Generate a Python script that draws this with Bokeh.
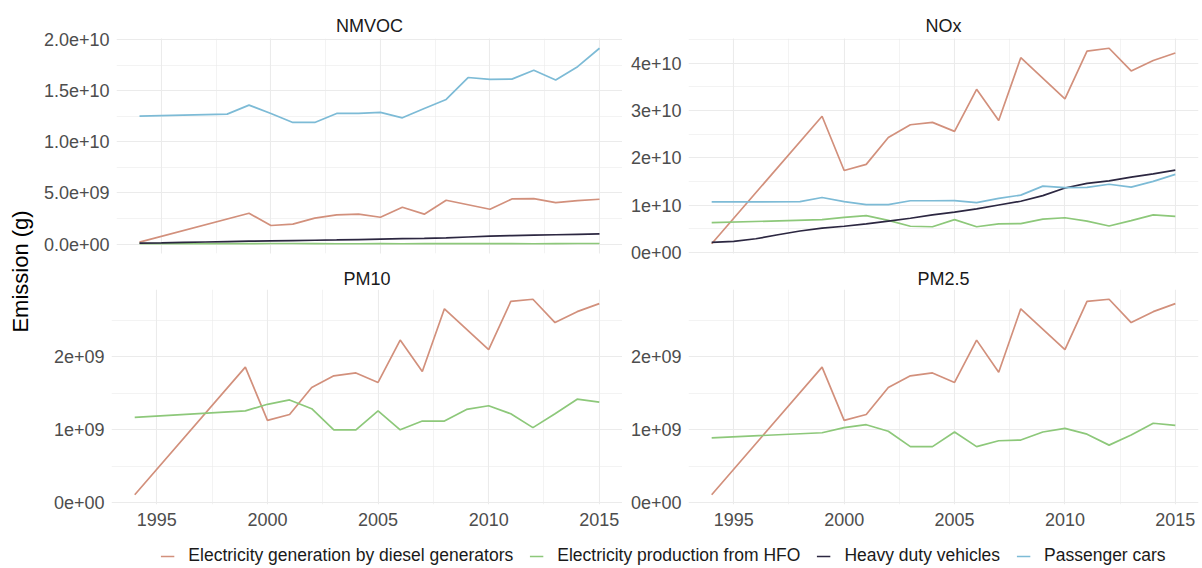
from math import pi
from bokeh.plotting import figure
from bokeh.models import (Range1d, FixedTicker, CustomJSTickFormatter, Grid,
                          Legend, LegendItem, Label)
from bokeh.layouts import row, column
from bokeh.embed import file_html
from bokeh.resources import INLINE

# ---------------- data (values in 1e9 g) ----------------
sources = ["Electricity generation by diesel generators",
           "Electricity production from HFO",
           "Heavy duty vehicles",
           "Passenger cars"]
colors = ["#D2907C", "#8DC87A", "#2C2741", "#7DBBD6"]

diesel_years = [1994, 1999, 2000, 2001, 2002, 2003, 2004, 2005, 2006, 2007,
                2008, 2010, 2011, 2012, 2013, 2014, 2015]
hfo_years = [1994, 1999, 2000, 2001, 2002, 2003, 2004, 2005, 2006, 2007,
             2008, 2009, 2010, 2011, 2012, 2013, 2014, 2015]
heavy_years = [1994, 1995, 1996, 1997, 1998, 1999, 2000, 2001, 2002, 2003,
               2004, 2005, 2006, 2007, 2008, 2009, 2010, 2011, 2012, 2013,
               2014, 2015]
cars_years = [1994, 1998, 1999, 2000, 2001, 2002, 2003, 2004, 2005, 2006,
              2007, 2008, 2009, 2010, 2011, 2012, 2013, 2014, 2015]

diesel_nmvoc = [0.2, 3.02, 1.82, 1.95, 2.54, 2.86, 2.93, 2.63, 3.61, 2.93,
                4.29, 3.41, 4.42, 4.45, 4.06, 4.25, 4.39]
diesel_nox = [1.8, 28.8, 17.3, 18.6, 24.3, 27.0, 27.5, 25.6, 34.5, 27.9,
              41.2, 32.5, 42.6, 43.2, 38.4, 40.6, 42.2]
diesel_pm10 = [0.11, 1.86, 1.13, 1.21, 1.58, 1.74, 1.78, 1.65, 2.23, 1.80,
               2.66, 2.10, 2.76, 2.79, 2.47, 2.62, 2.73]
diesel_pm25 = [0.11, 1.86, 1.13, 1.21, 1.58, 1.74, 1.78, 1.65, 2.23, 1.79,
               2.66, 2.10, 2.76, 2.79, 2.47, 2.62, 2.73]

hfo_nmvoc = [0.05, 0.05, 0.06, 0.06, 0.05, 0.04, 0.04, 0.05, 0.04, 0.05,
             0.05, 0.05, 0.06, 0.05, 0.04, 0.05, 0.06, 0.06]
hfo_nox = [6.25, 6.9, 7.4, 7.75, 6.75, 5.5, 5.4, 6.9, 5.4, 6.0,
           6.05, 7.0, 7.3, 6.6, 5.55, 6.7, 7.9, 7.6]
hfo_pm10 = [1.17, 1.26, 1.35, 1.41, 1.29, 1.0, 1.0, 1.26, 1.0, 1.12,
            1.12, 1.28, 1.33, 1.22, 1.03, 1.22, 1.42, 1.38]
hfo_pm25 = [0.89, 0.96, 1.03, 1.07, 0.98, 0.77, 0.77, 0.97, 0.77, 0.85,
            0.86, 0.97, 1.02, 0.94, 0.79, 0.93, 1.09, 1.06]

heavy_nmvoc = [0.10, 0.13, 0.17, 0.21, 0.25, 0.29, 0.32, 0.35, 0.38, 0.41,
               0.45, 0.49, 0.53, 0.57, 0.62, 0.70, 0.78, 0.84, 0.88, 0.92,
               0.96, 1.00]
heavy_nox = [2.1, 2.3, 2.85, 3.7, 4.5, 5.1, 5.5, 6.0, 6.6, 7.2,
             7.9, 8.5, 9.2, 10.0, 10.8, 12.0, 13.6, 14.6, 15.1, 15.9,
             16.6, 17.4]

cars_nmvoc = [12.52, 12.71, 13.59, 12.78, 11.9, 11.9, 12.78, 12.78, 12.88,
              12.35, 13.27, 14.15, 16.29, 16.1, 16.13, 17.0, 16.05, 17.35,
              19.15]
cars_nox = [10.66, 10.7, 11.6, 10.7, 10.1, 10.1, 10.9, 10.9, 10.95, 10.5,
            11.4, 12.1, 14.0, 13.7, 13.75, 14.4, 13.8, 15.0, 16.5]

x_ticks = [1995, 2000, 2005, 2010, 2015]
x_minor = [1997.5, 2002.5, 2007.5, 2012.5]
nmvoc_ticks = [0, 5e9, 1e10, 1.5e10, 2e10]
nmvoc_minor = [2.5e9, 7.5e9, 1.25e10, 1.75e10]
nox_ticks = [0, 1e10, 2e10, 3e10, 4e10]
nox_minor = [5e9, 1.5e10, 2.5e10, 3.5e10, 4.5e10]
pm_ticks = [0, 1e9, 2e9]
pm_minor = [5e8, 1.5e9, 2.5e9]

UNIT = 1e9
FONT = "Liberation Sans"
GRID = "#EBEBEB"
LW = 1.7
TICK_FS = "18px"


def fmt(digits):
    return CustomJSTickFormatter(code="""
        const s = tick.toExponential(%d);
        const parts = s.split('e');
        const sign = parts[1][0];
        let d = parts[1].slice(1);
        if (d.length < 2) { d = '0' + d; }
        return parts[0] + 'e' + sign + d;
    """ % digits)


def make_panel(name, series, yticks, yminor, digits, top, left):
    allv = [v * UNIT for (_, vals, _) in series for v in vals]
    ally = [y for (yrs, _, _) in series for y in yrs]
    lo, hi = min(allv), max(allv)
    pad = 0.05 * (hi - lo)
    xlo, xhi = min(ally), max(ally)
    xpad = 0.05 * (xhi - xlo)
    mb_left = 71 if left else 66
    mb_right = 0 if left else 2
    frame_w = 511 if left else 510
    mb_top = 38 if top else 23
    mb_bottom = 12 if top else 30
    frame_h = 215 if top else 216
    p = figure(width=mb_left + frame_w + mb_right,
               height=mb_top + frame_h + mb_bottom,
               x_range=Range1d(xlo - xpad, xhi + xpad),
               y_range=Range1d(lo - pad, hi + pad),
               x_axis_location=None if top else "below",
               output_backend="svg", toolbar_location=None,
               min_border_left=mb_left, min_border_right=mb_right,
               min_border_top=mb_top, min_border_bottom=mb_bottom,
               title=name)
    p.outline_line_color = None
    p.background_fill_color = "white"
    p.border_fill_color = "white"
    p.title.align = "center"
    p.title.text_font = FONT
    p.title.text_font_size = "18px"
    p.title.text_font_style = "normal"
    p.title.text_color = "#1A1A1A"
    p.title.standoff = 5 if top else 2

    xticker = FixedTicker(ticks=x_ticks, minor_ticks=x_minor)
    yticker = FixedTicker(ticks=yticks, minor_ticks=yminor)

    if top:
        g = Grid(dimension=0, ticker=xticker, grid_line_color=GRID,
                 grid_line_width=1.1, minor_grid_line_color=GRID,
                 minor_grid_line_width=0.6)
        p.add_layout(g)
    else:
        p.xaxis.ticker = xticker
        p.xgrid.ticker = xticker
        p.xgrid.grid_line_color = GRID
        p.xgrid.grid_line_width = 1.1
        p.xgrid.minor_grid_line_color = GRID
        p.xgrid.minor_grid_line_width = 0.6
        ax = p.xaxis[0]
        ax.axis_line_color = None
        ax.major_tick_line_color = None
        ax.minor_tick_line_color = None
        ax.major_tick_out = 0
        ax.major_tick_in = 0
        ax.minor_tick_out = 0
        ax.minor_tick_in = 0
        ax.major_label_standoff = 8
        ax.major_label_text_font = FONT
        ax.major_label_text_font_size = TICK_FS
        ax.major_label_text_color = "#4D4D4D"

    p.yaxis.ticker = yticker
    p.ygrid.ticker = yticker
    p.ygrid.grid_line_color = GRID
    p.ygrid.grid_line_width = 1.1
    p.ygrid.minor_grid_line_color = GRID
    p.ygrid.minor_grid_line_width = 0.6
    ay = p.yaxis[0]
    ay.formatter = fmt(digits)
    ay.axis_line_color = None
    ay.major_tick_line_color = None
    ay.minor_tick_line_color = None
    ay.major_tick_out = 0
    ay.major_tick_in = 0
    ay.minor_tick_out = 0
    ay.minor_tick_in = 0
    ay.major_label_standoff = 7
    ay.major_label_text_font = FONT
    ay.major_label_text_font_size = TICK_FS
    ay.major_label_text_color = "#4D4D4D"

    for yrs, vals, c in series:
        p.line(yrs, [v * UNIT for v in vals], line_color=c, line_width=LW)
    return p


tl = make_panel("NMVOC", [(diesel_years, diesel_nmvoc, colors[0]),
                          (hfo_years, hfo_nmvoc, colors[1]),
                          (heavy_years, heavy_nmvoc, colors[2]),
                          (cars_years, cars_nmvoc, colors[3])],
                nmvoc_ticks, nmvoc_minor, 1, True, True)
tr = make_panel("NOx", [(diesel_years, diesel_nox, colors[0]),
                        (hfo_years, hfo_nox, colors[1]),
                        (heavy_years, heavy_nox, colors[2]),
                        (cars_years, cars_nox, colors[3])],
                nox_ticks, nox_minor, 0, True, False)
bl = make_panel("PM10", [(diesel_years, diesel_pm10, colors[0]),
                         (hfo_years, hfo_pm10, colors[1])],
                pm_ticks, pm_minor, 0, False, True)
br = make_panel("PM2.5", [(diesel_years, diesel_pm25, colors[0]),
                          (hfo_years, hfo_pm25, colors[1])],
                pm_ticks, pm_minor, 0, False, False)

panels_h = tl.height + bl.height

# y-axis title
ylab = figure(width=40, height=panels_h, x_range=Range1d(0, 40),
              y_range=Range1d(0, panels_h), x_axis_location=None,
              y_axis_location=None, output_backend="svg",
              toolbar_location=None, min_border_left=0, min_border_right=0,
              min_border_top=0, min_border_bottom=0)
ylab.outline_line_color = None
ylab.grid.visible = False
ylab.add_layout(Label(x=20, y=panels_h - 271, text="Emission (g)",
                      angle=pi / 2, text_align="center",
                      text_baseline="middle", text_font=FONT,
                      text_font_size="22px", text_color="black"))

# legend strip (legend handles reuse the NOx series, drawn outside the view)
leg = figure(width=1200, height=32, x_range=Range1d(0, 1),
             y_range=Range1d(0, 1), x_axis_location=None,
             y_axis_location=None, output_backend="svg",
             toolbar_location=None, min_border_left=128, min_border_right=2,
             min_border_top=0, min_border_bottom=0)
leg.outline_line_color = None
leg.grid.visible = False
items = []
handle_data = [(diesel_years, diesel_nox), (hfo_years, hfo_nox),
               (heavy_years, heavy_nox), (cars_years, cars_nox)]
for s, c, (yrs, vals) in zip(sources, colors, handle_data):
    r = leg.line(yrs, vals, line_color=c, line_width=LW)
    items.append(LegendItem(label=s, renderers=[r]))
legend = Legend(items=items, orientation="horizontal",
                location="bottom_center", margin=0, padding=4,
                spacing=16, glyph_width=14, glyph_height=18,
                label_height=18, label_standoff=14,
                label_text_font=FONT, label_text_font_size="17.5px",
                label_text_color="#1A1A1A", border_line_color=None,
                background_fill_alpha=0)
leg.add_layout(legend)

layout = column(row(ylab, column(row(tl, tr), row(bl, br))), leg)

open("out.html", "w").write(file_html(layout, INLINE))
